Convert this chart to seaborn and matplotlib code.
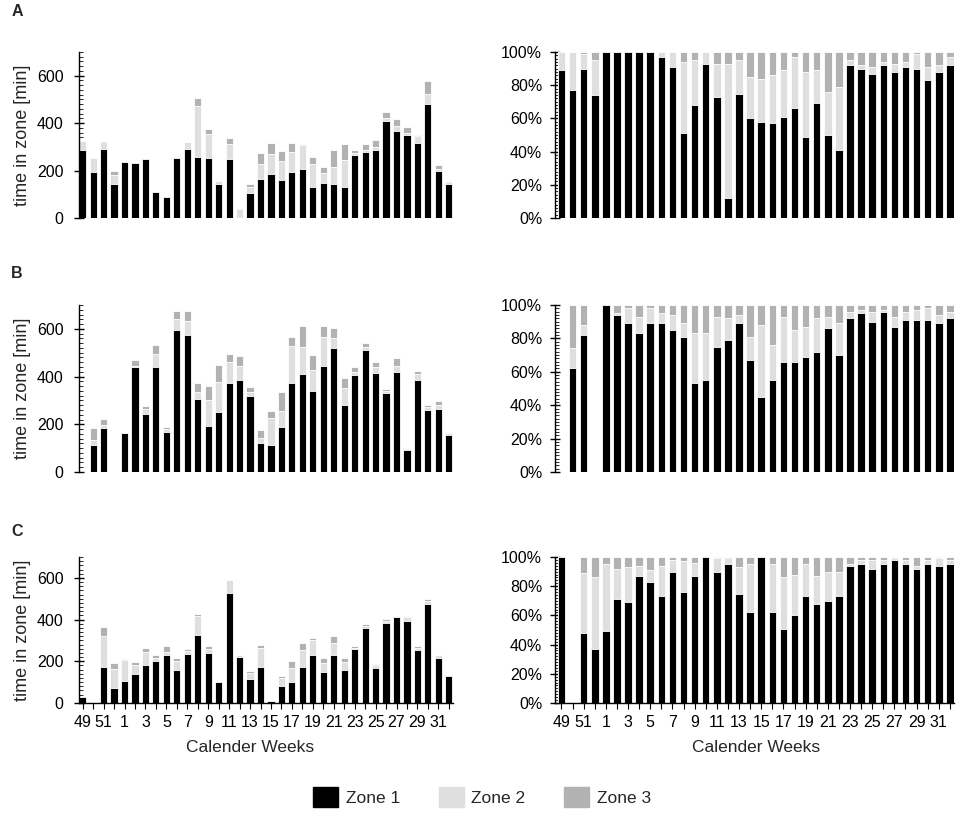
import matplotlib
matplotlib.use("Agg")
import matplotlib.pyplot as plt
import seaborn as sns
import pandas as pd
from matplotlib.patches import Patch
from matplotlib.ticker import MultipleLocator, FuncFormatter

# ------------------------------------------------------------
# data
# ------------------------------------------------------------
weeks = [49, 50, 51, 52] + list(range(1, 33))
week_labels = [str(w) for w in weeks]
zone_names = ["Zone 1", "Zone 2", "Zone 3"]
zone_colors = ["#000000", "#DFDFDF", "#B2B2B2"]

# A - minutes per zone
a_min_z1 = [286, 196, 290, 145, 237, 234, 248, 111, 90, 251, 289, 258, 254, 145, 248, 5, 106, 163,
            185, 161, 193, 208, 130, 148, 145, 130, 266, 280, 286, 411, 366, 351, 315, 479, 200, 144]
a_min_z2 = [38, 59, 32, 38, 0, 0, 0, 0, 0, 7, 32, 215, 102, 9, 66, 35, 26, 65,
            83, 80, 86, 99, 98, 42, 72, 114, 9, 6, 13, 9, 21, 8, 31, 46, 6, 8]
a_min_z3 = [0, 0, 2, 14, 0, 0, 0, 0, 0, 0, 0, 34, 19, 0, 24, 4, 10, 44,
            49, 41, 38, 7, 31, 24, 70, 66, 12, 25, 32, 26, 30, 23, 3, 52, 19, 3]
# A - share per zone [%]
a_pct_z1 = [89, 77, 90, 74, 100, 100, 100, 100, 100, 97, 91, 51, 68, 93, 73, 12, 75, 60,
            58, 57, 61, 66, 49, 69, 50, 41, 92, 90, 87, 92, 88, 91, 90, 83, 88, 92]
a_pct_z2 = [11, 23, 9, 21, 0, 0, 0, 0, 0, 3, 9, 43, 27, 7, 20, 81, 20, 25,
            26, 29, 28, 31, 39, 20, 26, 38, 3, 2, 4, 2, 5, 3, 9, 8, 4, 5]
a_pct_z3 = [0, 0, 1, 5, 0, 0, 0, 0, 0, 0, 0, 6, 5, 0, 7, 7, 5, 15,
            16, 14, 11, 3, 12, 11, 24, 21, 5, 8, 9, 6, 7, 6, 1, 9, 8, 3]

# B - minutes per zone
b_min_z1 = [0, 115, 185, 0, 165, 439, 244, 439, 168, 597, 575, 306, 192, 251, 372, 386, 317, 121,
            115, 187, 374, 410, 339, 445, 519, 279, 407, 511, 415, 331, 418, 94, 386, 259, 265, 154]
b_min_z2 = [0, 21, 14, 0, 0, 7, 20, 56, 14, 43, 60, 28, 110, 125, 88, 60, 17, 23,
            111, 70, 156, 115, 89, 119, 41, 74, 14, 12, 27, 8, 27, 4, 25, 14, 15, 10]
b_min_z3 = [0, 49, 25, 0, 0, 22, 12, 36, 8, 33, 38, 40, 58, 74, 34, 41, 21, 34,
            29, 78, 35, 89, 63, 47, 43, 41, 19, 16, 18, 7, 32, 4, 14, 9, 19, 4]
# B - share per zone [%]
b_pct_z1 = [0, 62, 82, 0, 100, 94, 89, 83, 89, 89, 85, 81, 53, 55, 75, 79, 89, 67,
            45, 55, 66, 66, 69, 72, 86, 70, 92, 95, 90, 96, 87, 91, 91, 91, 89, 92]
b_pct_z2 = [0, 12, 6, 0, 0, 1, 9, 10, 9, 6, 9, 8, 30, 28, 18, 13, 5, 14,
            43, 21, 27, 19, 18, 20, 7, 19, 4, 2, 6, 1, 6, 5, 6, 7, 5, 4]
b_pct_z3 = [0, 26, 12, 0, 0, 5, 2, 7, 2, 5, 6, 11, 17, 17, 7, 8, 6, 19,
            12, 24, 7, 15, 13, 8, 7, 11, 4, 3, 4, 3, 7, 4, 3, 2, 6, 4]

# C - minutes per zone
c_min_z1 = [30, 0, 172, 70, 107, 140, 183, 200, 230, 158, 235, 325, 238, 103, 528, 220, 115, 172,
            10, 80, 100, 172, 228, 148, 228, 160, 258, 360, 170, 385, 413, 395, 252, 475, 218, 130]
c_min_z2 = [0, 0, 150, 95, 98, 40, 62, 15, 15, 42, 15, 90, 22, 0, 60, 10, 30, 93,
            0, 42, 70, 83, 72, 42, 62, 35, 7, 10, 12, 10, 2, 15, 13, 15, 10, 5]
c_min_z3 = [0, 0, 40, 25, 8, 15, 17, 15, 30, 18, 10, 10, 12, 0, 0, 0, 10, 13,
            0, 8, 30, 35, 10, 28, 30, 23, 7, 7, 3, 7, 0, 5, 10, 7, 2, 0]
# C - share per zone [%]
c_pct_z1 = [100, 0, 48, 37, 49, 71, 69, 87, 83, 73, 90, 76, 87, 100, 90, 95, 75, 62,
            100, 62, 51, 60, 73, 68, 70, 73, 94, 95, 92, 95, 98, 95, 92, 95, 94, 95]
c_pct_z2 = [0, 0, 41, 49, 46, 21, 24, 7, 8, 21, 8, 21, 9, 0, 9, 4, 18, 33,
            0, 33, 35, 28, 22, 19, 20, 17, 1, 3, 6, 3, 1, 3, 2, 3, 5, 3]
c_pct_z3 = [0, 0, 11, 14, 5, 8, 7, 6, 9, 6, 2, 3, 4, 0, 1, 1, 7, 5,
            0, 5, 14, 12, 5, 13, 10, 10, 5, 2, 2, 2, 1, 2, 6, 2, 1, 2]

# ------------------------------------------------------------
# style
# ------------------------------------------------------------
sns.set_style("white")
plt.rcParams["font.family"] = ["Liberation Sans", "DejaVu Sans"]

W, H = 957, 815
fig = plt.figure(figsize=(W / 100, H / 100), dpi=100)


def rect(x0, x1, ytop, ybot):
    return [x0 / W, 1 - ybot / H, (x1 - x0) / W, (ybot - ytop) / H]


def stacked(ax, z1, z2, z3):
    df = pd.DataFrame({"week": week_labels, "z1": z1, "z2": z2, "z3": z3})
    df["top2"] = df["z1"] + df["z2"]
    df["top3"] = df["top2"] + df["z3"]
    # draw back to front so the segments stack
    for col, c in [("top3", zone_colors[2]), ("top2", zone_colors[1]), ("z1", zone_colors[0])]:
        sns.barplot(data=df, x="week", y=col, order=week_labels, color=c, saturation=1,
                    width=0.68, edgecolor="white", linewidth=0.6, errorbar=None, ax=ax)
    ax.set_xlabel("")
    ax.set_ylabel("")


def style_axes(ax, percent, bottom_row):
    sns.despine(ax=ax, top=True, right=True, bottom=not bottom_row)
    ax.spines["left"].set_color("black")
    ax.spines["left"].set_linewidth(1.0)
    if percent:
        ax.set_ylim(0, 100)
        ax.yaxis.set_major_locator(MultipleLocator(20))
        ax.yaxis.set_minor_locator(MultipleLocator(2))
        ax.yaxis.set_major_formatter(FuncFormatter(lambda v, p: f"{v:.0f}%"))
        ax.set_xlim(-0.58, 35.37)
        pad = 5.5
    else:
        ax.set_ylim(0, 700)
        ax.yaxis.set_major_locator(MultipleLocator(200))
        ax.yaxis.set_minor_locator(MultipleLocator(20))
        ax.set_xlim(-0.35, 35.4)
        pad = 7.5
    ax.tick_params(axis="y", which="major", direction="inout", length=7.5, width=1,
                   labelsize=11.5, pad=pad, left=True, colors="black")
    ax.tick_params(axis="y", which="minor", direction="in", length=3, width=0.7, left=True)
    if bottom_row:
        ax.spines["bottom"].set_color("black")
        ax.spines["bottom"].set_linewidth(1.0)
        ax.set_xticks(range(len(weeks)))
        ax.set_xticklabels([lab if i % 2 == 0 else "" for i, lab in enumerate(week_labels)])
        ax.tick_params(axis="x", direction="out", length=4, width=0.8, labelsize=11.5,
                       pad=4.5, bottom=True, colors="black")
    else:
        ax.tick_params(axis="x", bottom=False, labelbottom=False)


rows = [
    ("A", 52, 218, (a_min_z1, a_min_z2, a_min_z3), (a_pct_z1, a_pct_z2, a_pct_z3), 12),
    ("B", 305, 472, (b_min_z1, b_min_z2, b_min_z3), (b_pct_z1, b_pct_z2, b_pct_z3), 273),
    ("C", 557, 703, (c_min_z1, c_min_z2, c_min_z3), (c_pct_z1, c_pct_z2, c_pct_z3), 532),
]

for i, (letter, ytop, ybot, mins, pcts, ylet) in enumerate(rows):
    last = i == len(rows) - 1

    ax_l = fig.add_axes(rect(79, 453, ytop, ybot))
    stacked(ax_l, *mins)
    style_axes(ax_l, percent=False, bottom_row=last)

    ax_r = fig.add_axes(rect(555, 954, ytop, ybot))
    stacked(ax_r, *pcts)
    style_axes(ax_r, percent=True, bottom_row=last)

    fig.text(17 / W, 1 - ylet / H, letter, fontsize=11.5, fontweight="bold",
             ha="center", va="center")
    fig.text(23 / W, 1 - (ytop + ybot) / 2 / H, "time in zone [min]", rotation=90,
             fontsize=13, ha="center", va="center")

fig.text(250 / W, 1 - 747 / H, "Calender Weeks", fontsize=12.5, ha="center", va="center")
fig.text(756 / W, 1 - 747 / H, "Calender Weeks", fontsize=12.5, ha="center", va="center")

handles = [Patch(facecolor=c, edgecolor=c) for c in zone_colors]
fig.legend(handles, zone_names, loc="center", bbox_to_anchor=(482 / W, 1 - 797 / H),
           ncol=3, frameon=False, fontsize=12.5, handlelength=1.45, handleheight=1.45,
           handletextpad=0.45, columnspacing=2.2, borderaxespad=0, borderpad=0)

fig.savefig("out.png", dpi=100)
